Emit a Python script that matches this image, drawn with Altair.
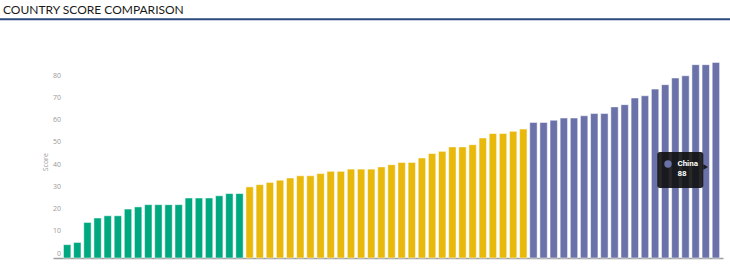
import altair as alt
import pandas as pd

# ---- data ----
low_countries = ["Chad", "Niger", "Mali", "Somalia", "Yemen", "Sudan", "Haiti", "Eritrea",
                 "Burundi", "Liberia", "Guinea", "Malawi", "Nepal", "Angola", "Zambia",
                 "Uganda", "Togo", "Benin"]
low_scores = [6, 7, 16, 18, 19, 19, 22, 23, 24, 24, 24, 24, 27, 27, 27, 28, 29, 29]

mid_countries = ["Kenya", "Ghana", "Nigeria", "Senegal", "Bolivia", "Honduras", "Cambodia",
                 "Laos", "Pakistan", "Bangladesh", "Myanmar", "Egypt", "Morocco", "Algeria",
                 "Tunisia", "Iran", "Iraq", "Jordan", "Peru", "Ecuador", "Colombia",
                 "Paraguay", "Philippines", "Indonesia", "Vietnam", "India", "Brazil", "Mexico"]
mid_scores = [32, 33, 34, 35, 36, 37, 37, 38, 39, 39, 40, 40, 40, 41, 42, 43, 43, 45, 47, 48,
              50, 50, 51, 54, 56, 56, 57, 58]

high_countries = ["Turkey", "Argentina", "Chile", "Thailand", "Malaysia", "South Africa",
                  "Russia", "Poland", "Greece", "Portugal", "Spain", "Italy", "France",
                  "United Kingdom", "Canada", "Germany", "Japan", "United States", "China"]
high_scores = [61, 61, 62, 63, 63, 64, 65, 65, 68, 69, 72, 73, 76, 78, 81, 82, 87, 87, 88]

groups = ["low", "mid", "high"]
group_colors = ["#00A880", "#E8B90A", "#6A72A9"]
y_ticks = [0, 10, 20, 30, 40, 50, 60, 70, 80]
tooltip_country = "China"
chart_title = "COUNTRY SCORE COMPARISON"

rows = []
for g, names, vals in zip(groups, [low_countries, mid_countries, high_countries],
                          [low_scores, mid_scores, high_scores]):
    for n, v in zip(names, vals):
        rows.append({"country": n, "score": v, "group": g})
df = pd.DataFrame(rows)

x_enc = alt.X(
    "country:N", sort=None,
    scale=alt.Scale(paddingInner=0.27, paddingOuter=0.685, align=0.755),
    axis=alt.Axis(labels=False, ticks=False, grid=False, domainColor="#a0a0a0", domainWidth=1.4,
                  title="Country", titleFontSize=8, titleColor="#999999",
                  titleFontWeight="normal", titleBaseline="alphabetic", titleY=11.5,
                  titleFont="Open Sans"),
)
y_scale = alt.Scale(domain=[0, 90], nice=False, zero=True)

bars = alt.Chart(df).mark_bar(stroke="white", strokeWidth=1, strokeOpacity=0.5).encode(
    x=x_enc,
    y=alt.Y("score:Q", scale=y_scale,
            axis=alt.Axis(values=y_ticks, grid=False, domain=False, ticks=False, tickSize=0,
                          labelOverlap=False,
                          labelPadding=-7.5, labelAlign="right", labelOffset=-5,
                          labelFontSize=7, labelColor="#999999", labelFont="Open Sans",
                          title="Score", titleFontSize=7, titleColor="#999999",
                          titleFontWeight="normal", titleFont="Open Sans",
                          titleAngle=270, titleBaseline="alphabetic", titleAlign="center",
                          titleX=-5.7, titleY=103.7)),
    color=alt.Color("group:N", scale=alt.Scale(domain=groups, range=group_colors), legend=None),
)

tip = alt.Chart(df).transform_filter(alt.datum.country == tooltip_country)
tx = alt.X("country:N", sort=None, axis=None)


def ty(v):
    return alt.YDatum(v, axis=None)


tip_box = tip.mark_bar(width=46, xOffset=-35.6, cornerRadius=2.5, color="#111111",
                       opacity=0.9).encode(x=tx, y=ty(47.7), y2=alt.Y2Datum(31.5))
tip_arrow = tip.mark_point(shape="triangle-right", filled=True, size=30, color="#111111",
                           opacity=0.9, xOffset=-10.2).encode(x=tx, y=ty(41.0))
tip_dot = tip.mark_point(shape="circle", filled=True, size=55, color="#6A72A9", opacity=1,
                         xOffset=-47.9).encode(x=tx, y=ty(42.3))
tip_name = tip.mark_text(align="left", baseline="middle", xOffset=-38.5, fontSize=8,
                         fontWeight="bold", color="white", font="Roboto").encode(
    x=tx, y=ty(42.3), text="country:N")
tip_val = tip.mark_text(align="left", baseline="middle", xOffset=-38.5, fontSize=8,
                        fontWeight="bold", color="white", font="Roboto").encode(
    x=tx, y=ty(37.7), text="score:Q")

deco = alt.Chart(pd.DataFrame({"label": [chart_title]}))
underline = deco.mark_rule(color="#2c4a7d", strokeWidth=2).encode(
    x=alt.value(-53), x2=alt.value(677), y=alt.value(-38.7))
title_text = deco.mark_text(align="left", baseline="alphabetic", fontSize=12, font="Lato",
                            color="#1a1a1a").encode(
    x=alt.value(-50), y=alt.value(-44.5), text="label:N")

chart = alt.layer(bars, tip_box, tip_arrow, tip_dot, tip_name, tip_val, underline,
                  title_text).resolve_axis(x="independent", y="independent").properties(
    width=670, height=200,
    background="white",
    autosize=alt.AutoSizeParams(type="none"),
    padding={"left": 53, "top": 58, "right": 7, "bottom": 7},
).configure_view(strokeWidth=0, stroke="transparent")

chart.save("out.html", embed_options={"renderer": "svg", "actions": False})
